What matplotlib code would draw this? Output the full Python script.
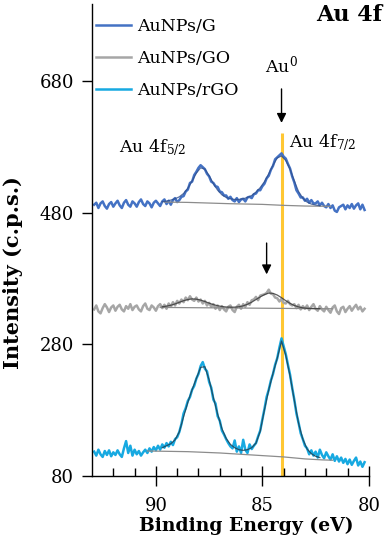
import numpy as np
import matplotlib
matplotlib.use("Agg")
import matplotlib.pyplot as plt

plt.rcParams["font.family"] = "DejaVu Serif"
plt.rcParams["mathtext.fontset"] = "dejavuserif"

# --- data ---
# measured spectra: 92.9 eV -> 80.2 eV in 0.1 eV steps
energy = np.round(np.arange(92.9, 80.15, -0.1), 1)

g_counts = [
    492, 495, 487, 494, 497, 490, 486, 493, 496, 489,
    494, 498, 491, 487, 495, 499, 492, 489, 497, 494,
    489, 496, 500, 493, 490, 497, 494, 488, 495, 498,
    494, 490, 497, 500, 493, 498, 492, 499, 502, 496,
    499, 504, 505, 512, 515, 525, 527, 537, 542, 548,
    552, 549, 546, 539, 535, 527, 525, 520, 519, 512,
    511, 506, 506, 501, 504, 499, 497, 502, 496, 500,
    501, 497, 503, 504, 502, 508, 509, 514, 514, 520,
    524, 532, 536, 545, 551, 561, 564, 567, 570, 565,
    562, 554, 547, 535, 526, 514, 509, 503, 503, 498,
    501, 495, 499, 494, 494, 497, 491, 495, 490, 488,
    493, 487, 491, 483, 481, 488, 490, 492, 485, 491,
    487, 493, 486, 491, 494, 485, 492, 484,
]

go_counts = [
    333, 339, 330, 327, 335, 341, 336, 329, 336, 339,
    331, 337, 340, 333, 330, 338, 334, 341, 332, 337,
    339, 333, 330, 338, 342, 334, 332, 339, 336, 331,
    338, 341, 335, 340, 334, 342, 337, 344, 339, 346,
    342, 348, 344, 351, 347, 353, 348, 346, 351, 345,
    348, 342, 346, 339, 343, 337, 341, 334, 339, 332,
    338, 333, 330, 337, 339, 332, 329, 337, 340, 334,
    341, 337, 344, 340, 347, 348, 352, 347, 354, 355,
    356, 358, 363, 357, 356, 351, 350, 345, 349, 343,
    342, 346, 341, 339, 341, 335, 340, 333, 338, 334,
    339, 332, 337, 341, 334, 331, 338, 333, 330, 337,
    332, 328, 336, 339, 330, 326, 335, 337, 329, 334,
    338, 331, 336, 340, 333, 337, 330, 334,
]

rgo_counts = [
    117, 111, 120, 113, 109, 118, 112, 119, 110, 116,
    112, 119, 113, 109, 122, 133, 115, 126, 111, 120,
    113, 118, 111, 116, 120, 115, 122, 117, 124, 119,
    126, 120, 128, 123, 130, 125, 132, 127, 136, 139,
    147, 159, 175, 183, 194, 200, 211, 217, 228, 235,
    247, 253, 243, 239, 223, 214, 196, 190, 171, 164,
    149, 143, 136, 130, 125, 122, 134, 117, 125, 115,
    135, 120, 115, 128, 121, 126, 130, 140, 149, 166,
    182, 200, 211, 225, 235, 249, 259, 275, 289, 277,
    265, 249, 234, 214, 196, 175, 161, 145, 136, 126,
    122, 113, 119, 111, 117, 108, 120, 112, 107, 116,
    110, 105, 113, 103, 110, 102, 108, 100, 106, 98,
    105, 97, 103, 108, 96, 102, 94, 101,
]

# fitted envelopes: 89.7 eV -> 82.3 eV in 0.2 eV steps
fit_energy = np.round(np.arange(89.7, 82.25, -0.2), 1)
g_fit = [496.5, 497.5, 499, 501, 504, 509, 517, 528, 540, 548,
         546, 536, 524, 514, 507, 503, 501, 500, 500, 501,
         503, 506, 511, 518, 527, 539, 552, 563, 566, 559,
         546, 528, 512, 502, 496, 493, 491.5, 490.5]
go_fit = [337.0, 338.0, 339.3, 341.3, 343.8, 346.2, 348.0, 349.0, 348.6, 347.1,
          345.0, 342.5, 340.3, 338.6, 337.4, 336.7, 336.4, 336.5, 337.0, 338.4,
          340.8, 344.0, 348.0, 352.0, 355.5, 357.8, 357.4, 354.8, 350.8, 346.2,
          342.2, 339.0, 336.8, 335.4, 334.7, 334.4, 334.2, 334.1]
rgo_fit = [123, 126, 129, 135, 147, 170, 192, 211, 228, 245,
           246, 226, 199, 174, 152, 137, 128, 123, 120, 119,
           120, 123, 130, 148, 181, 211, 236, 259, 285, 263,
           232, 195, 160, 136, 121, 114, 110, 108]

# Shirley backgrounds
g_bg_energy = [89.6, 88.5, 87.5, 86.5, 85.0, 84.0, 83.0, 81.8]
g_bg = [496, 495.5, 494.5, 493.5, 492.5, 491, 490, 489.5]
go_bg_energy = [89.8, 81.7]
go_bg = [336, 334]
rgo_bg_energy = [90.4, 88.5, 87.0, 86.0, 85.0, 84.0, 83.0, 82.2, 81.7]
rgo_bg = [118, 117, 115, 113, 111, 109, 106, 104.5, 104]

labels = ["AuNPs/G", "AuNPs/GO", "AuNPs/rGO"]
colors = ["#4472C4", "#A6A6A6", "#17A9E1"]

au0_energy = 84.1
au0_top = 601
go_shift_energy = 84.8

fig = plt.figure(figsize=(3.85, 5.5), dpi=100)
ax = fig.add_axes([0.239, 0.1345, 0.719, 0.8585])

ax.vlines(au0_energy, 80, au0_top, color="#FFC733", lw=2.2, zorder=1)

spectra = [(g_counts, g_fit, g_bg_energy, g_bg, "#2E4F8E"),
           (go_counts, go_fit, go_bg_energy, go_bg, "#333333"),
           (rgo_counts, rgo_fit, rgo_bg_energy, rgo_bg, "#1F3A4A")]
for (counts, fit, bge, bg, fitc), lab, c in zip(spectra, labels, colors):
    ax.plot(energy, counts, color=c, lw=1.8, label=lab, zorder=2)
    ax.plot(bge, bg, color="#8C8C8C", lw=0.9, zorder=3)
    ax.plot(fit_energy, fit, color=fitc, lw=0.9, alpha=0.8, zorder=3)

ax.set_xlim(93, 80)
ax.set_ylim(80, 797)
ax.set_yticks([80, 280, 480, 680])
ax.set_xticks([90, 85, 80])
ax.set_xticks(np.arange(80, 93, 1), minor=True)
ax.tick_params(axis="y", direction="out", length=7, width=1, labelsize=13, pad=6)
ax.tick_params(axis="x", which="major", direction="inout", length=14, width=1,
               labelsize=13, pad=8)
ax.tick_params(axis="x", which="minor", direction="in", length=6, width=1)
for s in ("top", "right"):
    ax.spines[s].set_visible(False)
ax.spines["left"].set_linewidth(1)
ax.spines["bottom"].set_linewidth(1)

ax.set_xlabel("Binding Energy (eV)", fontsize=13.5, fontweight="bold")
ax.xaxis.set_label_coords(0.556, -0.087)
ax.set_ylabel("Intensity (c.p.s.)", fontsize=15, fontweight="bold")
ax.yaxis.set_label_coords(-0.25, 0.43)

ax.legend(loc="upper left", bbox_to_anchor=(-0.03, 0.995), frameon=False, fontsize=12.5,
          handlelength=2.0, handletextpad=0.35, labelspacing=0.85, borderaxespad=0.3)

ax.text(1.047, 0.977, "Au 4f", transform=ax.transAxes, ha="right", va="center",
        fontsize=16, fontweight="bold", clip_on=False)
ax.text(au0_energy, 704, "Au$^0$", ha="center", va="center", fontsize=12.5)
ax.annotate("", xy=(au0_energy, 612), xytext=(au0_energy, 672),
            arrowprops=dict(arrowstyle="-|>", color="black", lw=1, mutation_scale=14))
ax.annotate("", xy=(go_shift_energy, 382), xytext=(go_shift_energy, 438),
            arrowprops=dict(arrowstyle="-|>", color="black", lw=1, mutation_scale=14))
ax.text(90.15, 578, "Au 4f$_{5/2}$", ha="center", va="center", fontsize=12.5)
ax.text(82.15, 586, "Au 4f$_{7/2}$", ha="center", va="center", fontsize=12.5)

fig.savefig("out.png", dpi=100)
